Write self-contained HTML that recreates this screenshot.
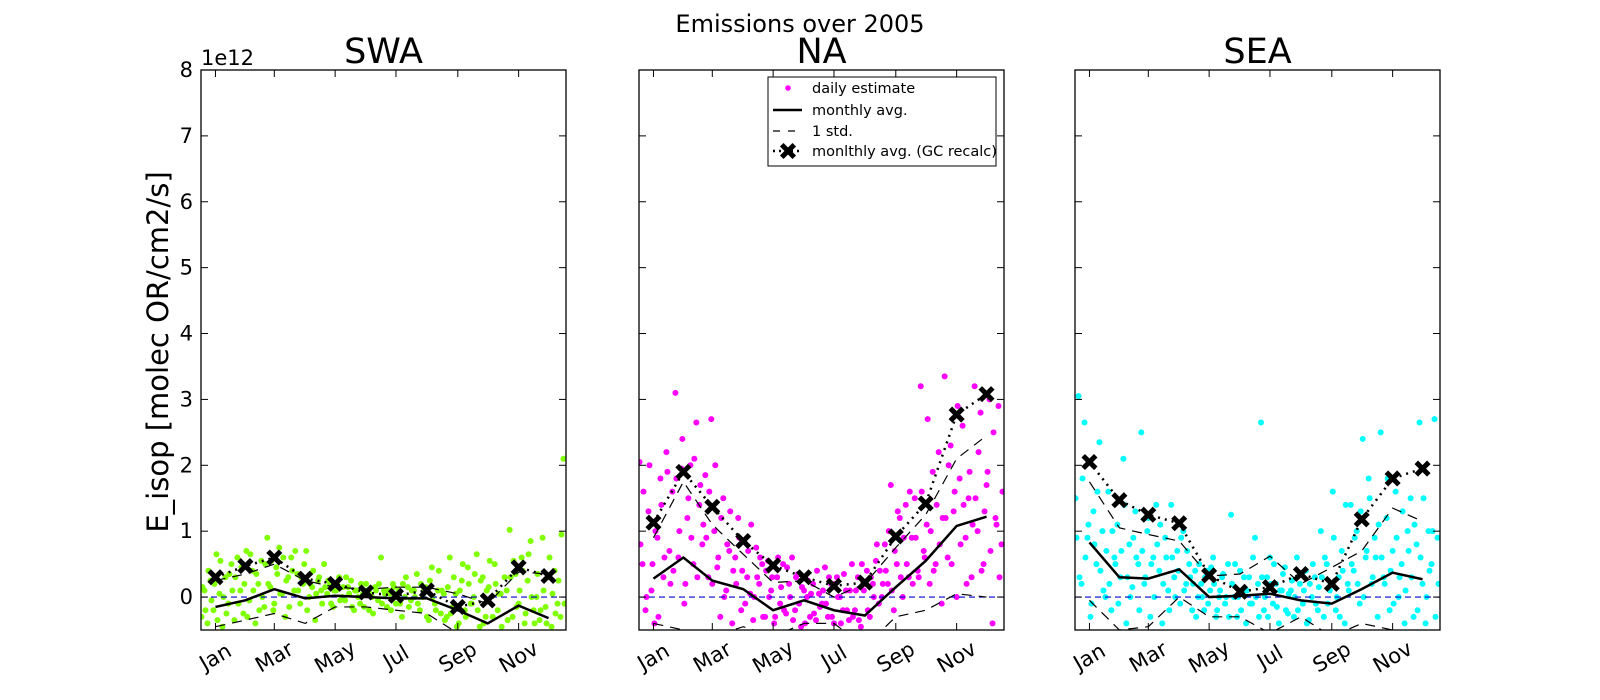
<!DOCTYPE html>
<html><head><meta charset="utf-8"><style>
html,body{margin:0;padding:0;background:#fff;}
svg{display:block;font-family:"DejaVu Sans","Liberation Sans",sans-serif;}
</style></head><body>
<svg id="fig" width="1600" height="700" viewBox="0 0 1600 700">
<rect width="1600" height="700" fill="#fff"/>
<text x="800" y="32" font-size="24" text-anchor="middle">Emissions over 2005</text>
<text x="168" y="352" font-size="29" text-anchor="middle" transform="rotate(-90 168 352)">E_isop [molec OR/cm2/s]</text>
<text x="201" y="65" font-size="21">1e12</text>
</svg>
<script>
const monthLabels=["Jan","Mar","May","Jul","Sep","Nov"];
const tickDays=[15,74,135,196,258,319];
const monthDays=[15,45,74,105,135,166,196,227,258,288,319,349];
const yTicks=[0,1,2,3,4,5,6,7,8];
const panelNames=["SWA","NA","SEA"];
const panelColors=["#7fff00","#ff00ff","#00ffff"];
// monthly values (1e12)
const swaMean=[-0.15,-0.05,0.12,-0.02,0.02,0.0,-0.02,-0.02,-0.2,-0.4,-0.13,-0.32];
const swaUp=[0.25,0.35,0.5,0.25,0.15,0.12,0.15,0.15,0.05,-0.1,0.38,0.35];
const swaLo=[-0.45,-0.35,-0.25,-0.4,-0.15,-0.15,-0.2,-0.25,-0.55,-0.7,-0.6,-0.9];
const swaGC=[0.3,0.47,0.6,0.28,0.2,0.07,0.02,0.1,-0.15,-0.05,0.45,0.32];
const naMean=[0.28,0.6,0.25,0.12,-0.2,-0.05,-0.2,-0.28,0.15,0.55,1.08,1.22];
const naUp=[0.9,1.75,1.1,0.65,0.22,0.25,0.0,0.2,0.75,1.25,2.1,2.45];
const naLo=[-0.4,-0.5,-0.6,-0.45,-0.6,-0.4,-0.4,-0.75,-0.3,-0.2,0.05,0.0];
const naGC=[1.13,1.9,1.37,0.85,0.48,0.3,0.17,0.22,0.92,1.42,2.77,3.08];
const seaMean=[0.83,0.3,0.28,0.42,0.0,0.02,0.05,-0.05,-0.1,0.12,0.37,0.27];
const seaUp=[1.75,1.05,0.95,0.85,0.32,0.35,0.62,0.2,0.45,0.7,1.35,1.15];
const seaLo=[-0.05,-0.5,-0.45,0.0,-0.3,-0.3,-0.55,-0.3,-0.6,-0.4,-0.5,-0.6];
const seaGC=[2.05,1.47,1.25,1.12,0.33,0.08,0.15,0.35,0.2,1.18,1.8,1.95];
// daily estimates: A = days 1,4,7..., B = days 2,5,8...
const swaDailyA=[-0.3,0.1,-0.4,0.25,-0.2,0.65,0.05,-0.45,0.3,-0.1,0.5,
-0.35,0.6,0.1,-0.25,0.7,-0.05,0.4,-0.4,0.2,0.55,-0.15,
0.9,0.15,-0.2,0.45,0.75,0.05,-0.3,0.3,0.6,0.1,
0.35,-0.1,0.2,0.7,0.0,0.15,-0.35,0.25,0.1,0.5,
0.05,0.2,-0.15,0.1,0.3,0.0,-0.05,0.15,0.25,-0.2,
0.1,-0.1,0.05,0.2,-0.2,0.0,0.15,-0.05,0.6,0.1,
-0.15,0.05,0.2,-0.1,0.1,-0.3,0.0,0.15,-0.05,0.1,
0.35,-0.2,0.0,0.15,-0.35,0.45,-0.1,0.1,-0.25,0.05,
-0.3,0.6,-0.15,0.05,-0.4,0.25,-0.2,0.45,-0.1,0.0,
0.65,-0.45,0.3,-0.3,0.15,-0.55,0.5,-0.2,0.05,-0.6,
0.1,1.02,-0.3,0.35,-0.1,0.6,-0.4,0.25,0.85,-0.2,
0.0,-0.35,0.9,-0.15,0.3,-0.45,0.4,-0.1,-0.3,2.1];
const swaDailyB=[0.15,-0.2,0.4,-0.05,0.2,-0.35,0.55,0.0,-0.25,0.35,0.1,
0.3,-0.1,0.45,0.2,-0.3,0.65,0.1,0.35,-0.2,0.0,0.5,
0.2,0.55,-0.1,0.35,0.05,0.6,0.25,-0.15,0.4,0.7,
0.1,0.3,0.5,-0.2,0.2,0.4,0.05,0.3,-0.1,0.15,
0.25,-0.1,0.1,0.2,-0.05,0.15,0.3,0.05,-0.15,0.1,
0.0,0.2,-0.15,0.1,0.05,-0.25,0.1,0.2,-0.1,0.05,
0.1,-0.2,0.15,0.05,-0.1,0.2,0.3,-0.15,0.1,0.0,
-0.1,0.2,0.1,-0.3,0.25,0.0,-0.2,0.4,0.1,-0.35,
0.15,-0.25,0.3,-0.45,0.1,0.5,-0.3,0.2,-0.1,0.35,
-0.2,0.25,-0.4,0.1,0.55,-0.3,0.2,0.05,-0.45,0.3,
-0.35,0.3,0.55,-0.15,0.1,0.4,-0.25,0.65,0.0,-0.4,
0.35,-0.2,0.1,-0.4,0.6,0.05,-0.25,0.25,0.95,-0.1];
const naDailyA=[2.05,0.5,-0.2,1.3,0.1,-0.4,0.9,1.8,0.3,2.2,0.7,
1.6,3.1,0.6,1.95,-0.1,1.2,2.0,0.5,2.65,1.4,0.8,
1.85,0.3,2.7,1.0,0.45,-0.3,1.5,0.1,0.7,-0.4,
0.6,1.2,-0.2,0.85,0.3,0.05,-0.35,0.75,0.2,0.5,
-0.3,0.55,0.1,-0.4,0.3,-0.1,0.5,-0.25,0.2,0.6,
-0.2,0.35,-0.45,0.1,0.0,-0.3,0.2,-0.35,0.05,-0.1,
0.45,-0.3,0.2,-0.4,0.3,0.0,-0.2,0.1,-0.35,0.5,
-0.2,0.3,-0.45,0.1,0.4,-0.3,0.2,0.55,-0.1,0.0,
0.8,0.2,1.7,-0.2,0.5,1.2,0.0,1.4,0.3,0.9,
1.5,0.4,3.2,0.7,1.1,0.2,1.9,0.5,2.2,-0.1,
3.35,0.6,2.3,1.3,0.0,1.8,2.6,0.9,1.5,0.3,
3.2,1.0,2.8,0.5,1.7,3.0,-0.4,1.2,2.9,0.8];
const naDailyB=[0.8,1.6,0.0,2.0,0.5,1.0,-0.3,1.4,0.6,1.9,0.2,
0.4,1.8,1.0,2.4,0.2,1.5,0.9,2.1,0.3,1.7,1.1,
0.9,1.6,0.2,2.0,0.6,1.2,0.0,0.8,1.3,0.4,
0.2,0.9,0.4,-0.1,0.7,1.1,0.0,0.3,0.6,-0.3,
0.4,0.0,0.3,-0.3,0.6,0.15,-0.2,0.45,0.0,-0.35,
0.3,-0.1,0.15,-0.4,0.25,0.05,-0.25,0.4,-0.15,0.1,
-0.1,0.3,-0.3,0.2,0.0,-0.4,0.35,-0.2,0.1,-0.3,
0.1,-0.35,0.5,0.2,-0.2,0.3,0.0,0.8,0.4,0.2,
0.4,1.0,0.1,0.7,1.3,0.3,0.9,0.5,1.6,0.2,
0.9,0.3,1.6,0.6,2.7,1.0,0.4,1.4,0.8,1.2,
1.2,2.0,0.5,1.6,2.9,0.8,1.4,0.2,1.9,1.1,
1.5,2.2,0.4,1.3,1.9,0.7,2.5,1.1,0.3,1.6];
const seaDailyA=[1.5,3.05,0.2,2.65,0.9,-0.3,1.3,0.5,2.35,1.0,0.0,
1.6,-0.2,0.6,1.1,0.3,2.1,-0.4,0.8,0.15,1.3,0.5,
2.5,0.2,1.0,-0.3,0.6,1.4,0.4,-0.4,0.9,0.1,
1.4,0.3,0.7,-0.1,1.0,0.2,0.5,-0.2,0.4,0.0,
0.2,-0.2,0.4,0.1,0.6,-0.3,0.0,0.3,-0.1,0.5,
1.25,0.0,-0.3,0.4,0.1,-0.4,0.3,-0.1,0.9,0.2,
2.65,-0.2,0.3,0.6,-0.1,0.2,-0.4,0.1,0.45,-0.25,
0.1,-0.3,0.6,0.2,-0.1,0.4,-0.35,0.0,0.3,-0.2,
1.0,-0.3,0.5,0.1,1.6,-0.2,0.3,0.7,-0.4,0.2,
1.4,0.4,1.0,-0.1,2.4,0.6,1.8,0.2,0.9,-0.3,
2.5,0.3,1.2,-0.2,0.7,1.6,0.0,0.5,-0.4,1.0,
1.5,-0.3,0.8,2.65,0.2,-0.4,1.0,0.5,2.7,0.9];
const seaDailyB=[0.9,0.3,1.8,0.6,1.1,-0.1,0.8,1.6,0.4,0.1,0.7,
0.2,1.0,0.5,-0.1,0.7,1.4,0.3,0.0,0.9,0.6,-0.2,
0.7,0.3,1.2,0.5,0.0,0.8,1.1,0.2,0.6,-0.2,
0.6,0.0,0.4,0.9,0.1,0.7,0.3,0.2,-0.3,0.5,
0.0,0.3,-0.1,0.45,0.2,-0.2,0.1,0.35,0.0,-0.3,
0.2,0.5,0.0,-0.2,0.3,0.1,-0.1,0.6,0.0,-0.3,
0.3,0.0,-0.3,0.2,0.5,-0.15,0.1,0.35,-0.2,0.05,
0.25,0.0,-0.2,0.35,0.1,-0.4,0.2,0.5,-0.1,0.15,
0.3,0.6,-0.1,0.2,0.9,0.0,-0.3,0.4,1.4,0.1,
0.5,0.9,0.2,1.3,0.0,0.7,1.5,0.3,0.6,1.1,
0.6,0.2,1.8,0.4,-0.1,0.9,0.3,1.3,0.1,0.7,
0.3,1.1,-0.2,0.6,1.5,0.0,0.4,1.0,-0.3,0.2];

const NS="http://www.w3.org/2000/svg";
const svg=document.getElementById('fig');
const lefts=[201,639,1075], W=365, TOP=70, BOT=630, YMIN=-0.5, YMAX=8;
function yS(v){return BOT-(v-YMIN)/(YMAX-YMIN)*(BOT-TOP);}
function mk(tag,attrs,parent){const e=document.createElementNS(NS,tag);for(const k in attrs)e.setAttribute(k,attrs[k]);(parent||svg).appendChild(e);return e;}
const defs=mk('defs',{});
const panels=[[swaMean,swaUp,swaLo,swaGC,swaDailyA,swaDailyB],[naMean,naUp,naLo,naGC,naDailyA,naDailyB],[seaMean,seaUp,seaLo,seaGC,seaDailyA,seaDailyB]];
function cross(g,x,y){
  const c=mk('path',{d:`M${x-4.5},${y-4.5}L${x+4.5},${y+4.5}M${x-4.5},${y+4.5}L${x+4.5},${y-4.5}`,stroke:'#000','stroke-width':5,'stroke-linecap':'square'},g);
  
  
}
panels.forEach((p,pi)=>{
  const L=lefts[pi];
  const xS=d=>L+(d-0.5)*W/366;
  const cp=mk('clipPath',{id:'clip'+pi},defs);
  mk('rect',{x:L,y:TOP,width:W,height:BOT-TOP},cp);
  const g=mk('g',{'clip-path':`url(#clip${pi})`});
  
  
  [[p[4],1],[p[5],2]].forEach(([arr,off])=>{
    arr.forEach((v,i)=>{
      const c=mk('circle',{cx:xS(off+3*i),cy:yS(v),r:3,fill:panelColors[pi]},g);
      
      
    });
  });
  const zl=mk('line',{x1:L,x2:L+W,y1:yS(0),y2:yS(0),stroke:'#0000cc','stroke-width':1.2,'stroke-dasharray':'6,4'},g);
  
  
  const pts=a=>a.map((v,i)=>xS(monthDays[i])+','+yS(v)).join(' ');
  [[p[1],'std-upper-line'],[p[2],'std-lower-line']].forEach(([a,n])=>{
    const l=mk('polyline',{points:pts(a),fill:'none',stroke:'#000','stroke-width':1.2,'stroke-dasharray':'10,7'},g);
    
    
  });
  const gl=mk('polyline',{points:pts(p[3]),fill:'none',stroke:'#000','stroke-width':2.5,'stroke-dasharray':'2,5'},g);
  
  
  const ml=mk('polyline',{points:pts(p[0]),fill:'none',stroke:'#000','stroke-width':2.5},g);
  
  
  p[3].forEach((v,i)=>cross(g,xS(monthDays[i]),yS(v)));
  const fr=mk('rect',{x:L,y:TOP,width:W,height:BOT-TOP,fill:'none',stroke:'#000','stroke-width':1.3});
  
  
  yTicks.forEach(t=>{
    const y=yS(t);
    mk('line',{x1:L,x2:L+7,y1:y,y2:y,stroke:'#000','stroke-width':1});
    mk('line',{x1:L+W-7,x2:L+W,y1:y,y2:y,stroke:'#000','stroke-width':1});
    if(pi===0){
      const tl=mk('text',{x:L-8,y:y+7,'font-size':21,'text-anchor':'end'});
      tl.textContent=t;
      
      
    }
  });
  tickDays.forEach((d,i)=>{
    const x=xS(d);
    mk('line',{x1:x,x2:x,y1:BOT,y2:BOT-7,stroke:'#000','stroke-width':1});
    mk('line',{x1:x,x2:x,y1:TOP,y2:TOP+7,stroke:'#000','stroke-width':1});
    const tl=mk('text',{x:x,y:664,'font-size':21,'text-anchor':'middle',transform:`rotate(-30 ${x} 657)`});
    tl.textContent=monthLabels[i];
    
    
  });
  const tt=mk('text',{x:L+W/2,y:63,'font-size':35,'text-anchor':'middle'});
  tt.textContent=panelNames[pi];
  
  
});
const lg=mk('g',{});


mk('rect',{x:768,y:77,width:228,height:89,fill:'#fff',stroke:'#000','stroke-width':1},lg);
const rows=[88,110,131,151], labels=["daily estimate","monthly avg.","1 std.","monlthly avg. (GC recalc)"];
mk('circle',{cx:788,cy:rows[0],r:2.8,fill:'#ff00ff'},lg);
mk('line',{x1:773,x2:802,y1:rows[1],y2:rows[1],stroke:'#000','stroke-width':2.5},lg);
mk('line',{x1:773,x2:802,y1:rows[2],y2:rows[2],stroke:'#000','stroke-width':1.2,'stroke-dasharray':'7,8'},lg);
mk('line',{x1:773,x2:802,y1:rows[3],y2:rows[3],stroke:'#000','stroke-width':2.5,'stroke-dasharray':'2,4'},lg);
cross(lg,788,rows[3]);
labels.forEach((t,i)=>{
  const tx=mk('text',{x:812,y:rows[i]+5,'font-size':14.5},lg);
  tx.textContent=t;
  
  
});
</script>
</body></html>
